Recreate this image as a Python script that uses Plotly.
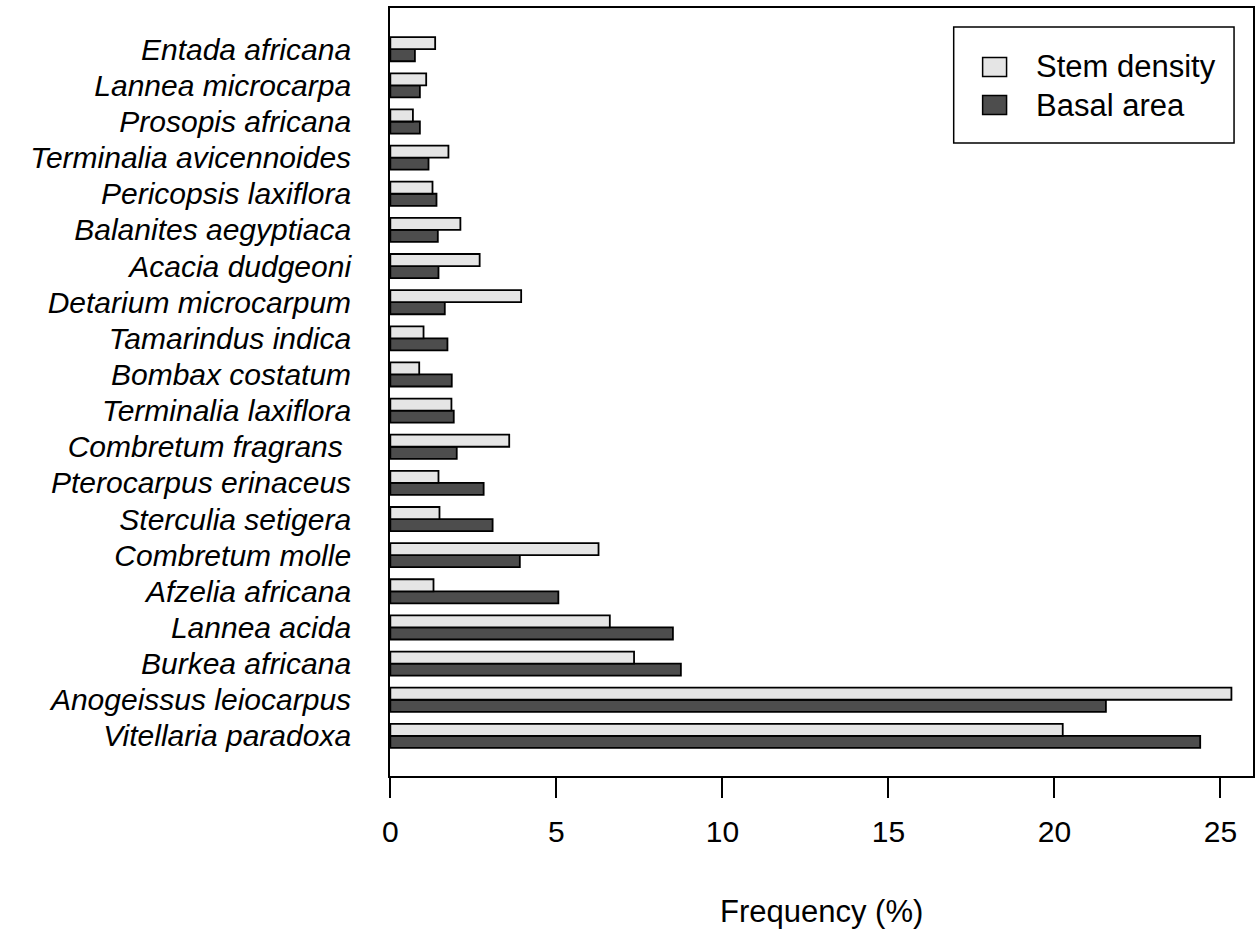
import plotly.graph_objects as go

# Species listed top to bottom as in the chart
species = [
    "Entada africana", "Lannea microcarpa", "Prosopis africana",
    "Terminalia avicennoides", "Pericopsis laxiflora", "Balanites aegyptiaca",
    "Acacia dudgeoni", "Detarium microcarpum", "Tamarindus indica",
    "Bombax costatum", "Terminalia laxiflora", "Combretum fragrans\u00a0",
    "Pterocarpus erinaceus", "Sterculia setigera", "Combretum molle",
    "Afzelia africana", "Lannea acida", "Burkea africana",
    "Anogeissus leiocarpus", "Vitellaria paradoxa",
]
stem_density = [1.35, 1.08, 0.68, 1.75, 1.27, 2.11, 2.69, 3.94, 1.00, 0.87,
                1.84, 3.58, 1.45, 1.48, 6.27, 1.30, 6.61, 7.34, 25.33, 20.25]
basal_area = [0.74, 0.89, 0.89, 1.15, 1.39, 1.43, 1.45, 1.64, 1.72, 1.85,
              1.91, 2.00, 2.81, 3.08, 3.90, 5.06, 8.51, 8.75, 21.55, 24.39]
x_ticks = [0, 5, 10, 15, 20, 25]
series_names = ["Stem density", "Basal area"]
colors = ["#E5E5E5", "#4D4D4D"]

W, H = 1259, 930
L, R, T, B = 390, 4, 8, 154
pw, ph = W - L - R, H - T - B

def px_x(p):
    return (p - L) / pw

def px_y(p):
    return (H - B - p) / ph

FONT = "Liberation Sans, Arial, sans-serif"
LW = 1.8

fig = go.Figure()
# basal first so it is drawn below stem density within each group
fig.add_trace(go.Bar(y=species, x=basal_area, orientation="h", name=series_names[1],
                     marker=dict(color=colors[1], line=dict(color="black", width=LW)),
                     showlegend=False))
fig.add_trace(go.Bar(y=species, x=stem_density, orientation="h", name=series_names[0],
                     marker=dict(color=colors[0], line=dict(color="black", width=LW)),
                     showlegend=False))

fig.update_layout(
    width=W, height=H,
    margin=dict(l=L, r=R, t=T, b=B, pad=0),
    paper_bgcolor="white", plot_bgcolor="white",
    barmode="group", bargap=1/3, bargroupgap=0,
    font=dict(family=FONT, color="black"),
)
fig.update_xaxes(
    range=[-0.01, 25.98], tickvals=x_ticks, ticks="outside", ticklen=20,
    tickwidth=1.8, tickcolor="black", showgrid=False, zeroline=False,
    showline=True, linecolor="black", linewidth=1.8, mirror=True,
    tickfont=dict(size=30, family=FONT, color="black"), ticklabelstandoff=8,
)
fig.update_yaxes(
    type="category", categoryorder="array", categoryarray=species[::-1],
    range=[-1.11, 20.14], ticks="", showgrid=False, zeroline=False,
    showline=True, linecolor="black", linewidth=1.8, mirror=True,
    tickfont=dict(size=30, family=FONT, color="black", style="italic"),
    ticklabelstandoff=31,
)

# x-axis title
fig.add_annotation(text="Frequency (%)", xref="paper", yref="paper",
                   x=0.5, y=px_y(911), xanchor="center", yanchor="middle",
                   showarrow=False, font=dict(size=31, family=FONT, color="black"))

# legend (drawn manually to match the boxed swatches)
fig.add_shape(type="rect", xref="paper", yref="paper",
              x0=px_x(955), x1=px_x(1236), y0=px_y(143), y1=px_y(27),
              line=dict(color="black", width=1.5), fillcolor="white", layer="above")
rows = [67, 105]
for name, col, yc in zip(series_names, colors, rows):
    fig.add_shape(type="rect", xref="paper", yref="paper",
                  x0=px_x(984), x1=px_x(1008), y0=px_y(yc + 9.5), y1=px_y(yc - 9.5),
                  line=dict(color="black", width=1.5), fillcolor=col, layer="above")
    fig.add_annotation(text=name, xref="paper", yref="paper",
                       x=px_x(1035), y=px_y(yc), xanchor="left", yanchor="middle",
                       showarrow=False, font=dict(size=31, family=FONT, color="black"))

fig.write_html("out.html")
